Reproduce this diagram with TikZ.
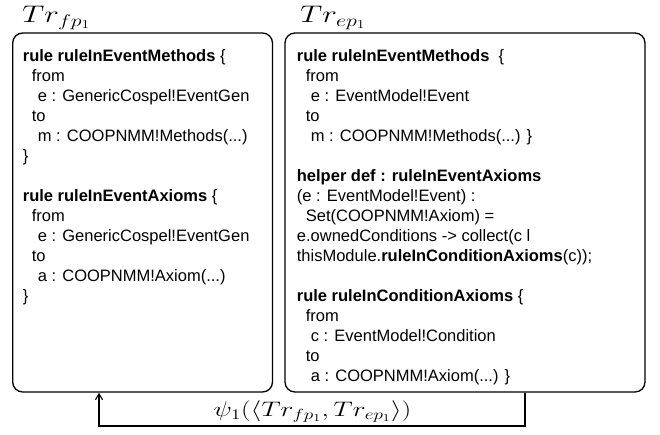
\RequirePackage{fix-cm}
\documentclass[tikz,border=0pt]{standalone}
\usepackage[no-math]{fontspec}
\setmainfont{Liberation Sans}
\usepackage{graphicx}
\usetikzlibrary{arrows.meta}

% math labels are set slightly widened
\newcommand{\widemath}[1]{\scalebox{1.3}[1]{$#1$}}

\begin{document}
\begin{tikzpicture}[x=1pt,y=-1pt,
  frame/.style={draw=black, line width=1.3pt, rounded corners=10pt, inner sep=0pt},
  code/.style={anchor=base west, inner sep=0pt, font=\fontsize{16.5}{20.06}\selectfont},
  heading/.style={anchor=base west, inner sep=0pt, font=\fontsize{24}{24}\selectfont},
  link/.style={draw=black, line width=1.1pt, -{Straight Barb[length=6pt,width=7pt]}}]

\useasboundingbox (0,0) rectangle (660,434);

% the two transformation boxes
\node[frame, minimum width=259.8pt, minimum height=359pt] (lbox) at (142.6,212.5) {};
\node[frame, minimum width=360pt, minimum height=359pt] (rbox) at (465,212.5) {};

% box titles
\node[heading] (ltitle) at (22,22.7) {\widemath{Tr_{fp_1}}};
\node[heading] (rtitle) at (300,22.7) {\widemath{Tr_{ep_1}}};

% left transformation
\node[code] (lcode) at (22.7,61) {\vtop{\baselineskip=20.06pt
  \hbox{\textbf{rule ruleInEventMethods} \{}
  \hbox{\hskip9pt from}
  \hbox{\hskip15pt e : GenericCospel!EventGen}
  \hbox{\hskip9pt to}
  \hbox{\hskip15pt m : COOPNMM!Methods(...)}
  \hbox{\}}
  \hbox{}
  \hbox{\textbf{rule ruleInEventAxioms} \{}
  \hbox{\hskip9pt from}
  \hbox{\hskip15pt e : GenericCospel!EventGen}
  \hbox{\hskip9pt to}
  \hbox{\hskip15pt a : COOPNMM!Axiom(...)}
  \hbox{\}}}};

% right transformation
\node[code] (rcode) at (296.7,61) {\vtop{\baselineskip=20.06pt
  \hbox{\textbf{rule ruleInEventMethods} \ \{}
  \hbox{\hskip9pt from}
  \hbox{\hskip14pt e : EventModel!Event}
  \hbox{\hskip9pt to}
  \hbox{\hskip14pt m : COOPNMM!Methods(...) \}}
  \hbox{}
  \hbox{\textbf{helper def : ruleInEventAxioms}}
  \hbox{(e : EventModel!Event) :}
  \hbox{\hskip9pt Set(COOPNMM!Axiom) =}
  \hbox{e.ownedConditions -> collect(c l}
  \hbox{thisModule.\textbf{ruleInConditionAxioms}(c));}
  \hbox{}
  \hbox{\textbf{rule ruleInConditionAxioms} \{}
  \hbox{\hskip9pt from}
  \hbox{\hskip14pt c : EventModel!Condition}
  \hbox{\hskip9pt to}
  \hbox{\hskip14pt a : COOPNMM!Axiom(...) \}}}};

% mapping between the two transformations
\coordinate (tailx) at (525,0);
\coordinate (bend) at (99,426);
\draw[link] (rbox.south -| tailx) |- (bend) -- (lbox.south -| bend);
\node[anchor=base, inner sep=0pt, font=\fontsize{21}{21}\selectfont] (psi) at (312.5,416)
  {\widemath{\psi_1(\langle Tr_{fp_1}, Tr_{ep_1}\rangle)}};
\end{tikzpicture}
\end{document}
